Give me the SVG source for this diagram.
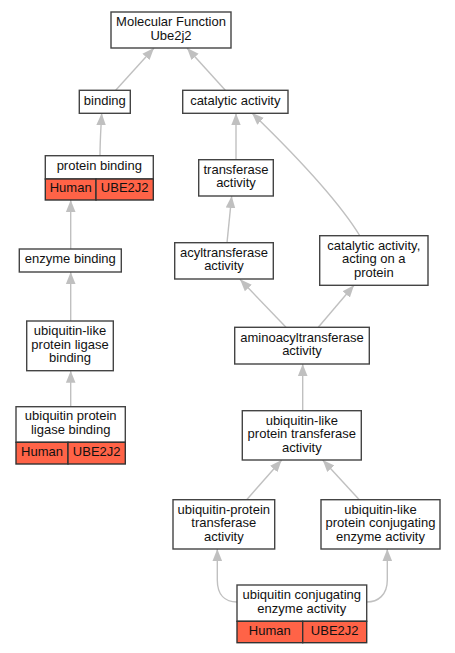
<svg xmlns="http://www.w3.org/2000/svg" width="455" height="653" viewBox="0 0 455 653">
<style>
.box{fill:#ffffff;stroke:#444444;stroke-width:1.4}
.red{fill:#ff6347;stroke:#333333;stroke-width:1.4}
.t{font-family:"Liberation Sans",Arial,sans-serif;font-size:13px;fill:#111111;text-anchor:middle}
.e{fill:none;stroke:#c0c0c0;stroke-width:1.4;marker-end:url(#ah)}
</style>
<defs>
<marker id="ah" markerUnits="userSpaceOnUse" markerWidth="14" markerHeight="12" viewBox="0 -6 14 12" refX="12" refY="0" orient="auto">
<path d="M0,-4.8 L12,0 L0,4.8 z" fill="#c0c0c0"/>
</marker>
</defs>
<rect width="455" height="653" fill="#ffffff"/>
<g id="connectors">
<path class="e" d="M115.7,90.3 L154,48"/>
<path class="e" d="M225.3,90.3 L187,48"/>
<path class="e" d="M100,155.7 C100,140 101,128 101.7,113.3"/>
<path class="e" d="M236,159.7 L236,113.3"/>
<path class="e" d="M360,236 C335,195 285,145 252,113"/>
<path class="e" d="M227,242.7 L231.7,196"/>
<path class="e" d="M70.7,249 L70.7,200"/>
<path class="e" d="M70.7,321 L70.7,272"/>
<path class="e" d="M70.7,406.7 L70.7,370.7"/>
<path class="e" d="M286,327.3 L240,279.3"/>
<path class="e" d="M318.3,327.3 L354,285.3"/>
<path class="e" d="M302.7,410.7 L302.7,364"/>
<path class="e" d="M246.7,499.7 L281.7,460"/>
<path class="e" d="M359.3,499.7 L322.7,460"/>
<path class="e" d="M237,602 C225,602 217.3,595 217.3,580 L217.3,549"/>
<path class="e" d="M366.7,602 C378,602 387.3,595 387.3,580 L387.3,549"/>
</g>
<g id="n_mf">
<rect class="box" x="111" y="12" width="120" height="36"/>
<text class="t" x="171" y="26.2">Molecular Function</text>
<text class="t" x="171" y="39.8">Ube2j2</text>
</g>
<g id="n_binding">
<rect class="box" x="79.3" y="90.3" width="51" height="23"/>
<text class="t" x="104.8" y="104.5">binding</text>
</g>
<g id="n_catalytic">
<rect class="box" x="182.7" y="90.3" width="105.3" height="23"/>
<text class="t" x="235.3" y="104.5">catalytic activity</text>
</g>
<g id="n_protein_binding">
<rect class="box" x="45.3" y="155.7" width="108" height="23.3"/>
<rect class="red" x="45.3" y="179" width="50.7" height="21"/>
<rect class="red" x="96" y="179" width="57.3" height="21"/>
<text class="t" x="99.3" y="169.7">protein binding</text>
<text class="t" x="70.7" y="192">Human</text>
<text class="t" x="124.7" y="192">UBE2J2</text>
</g>
<g id="n_transferase">
<rect class="box" x="198.7" y="159.7" width="74.6" height="36.3"/>
<text class="t" x="236" y="173.8">transferase</text>
<text class="t" x="236" y="187.4">activity</text>
</g>
<g id="n_enzyme_binding">
<rect class="box" x="19.3" y="249" width="102" height="23"/>
<text class="t" x="70.3" y="263.2">enzyme binding</text>
</g>
<g id="n_acyltransferase">
<rect class="box" x="174.7" y="242.7" width="98.6" height="36.3"/>
<text class="t" x="224" y="256.8">acyltransferase</text>
<text class="t" x="224" y="270.4">activity</text>
</g>
<g id="n_catalytic_protein">
<rect class="box" x="319.7" y="235.7" width="108.3" height="49.6"/>
<text class="t" x="373.8" y="249.6">catalytic activity,</text>
<text class="t" x="373.8" y="263.2">acting on a</text>
<text class="t" x="373.8" y="276.8">protein</text>
</g>
<g id="n_ubl_ligase_binding">
<rect class="box" x="26.7" y="321" width="86.6" height="49.7"/>
<text class="t" x="70" y="335">ubiquitin-like</text>
<text class="t" x="70" y="348.6">protein ligase</text>
<text class="t" x="70" y="362.2">binding</text>
</g>
<g id="n_aminoacyltransferase">
<rect class="box" x="234.7" y="327.3" width="134.6" height="36.7"/>
<text class="t" x="302" y="341.5">aminoacyltransferase</text>
<text class="t" x="302" y="355">activity</text>
</g>
<g id="n_ub_ligase_binding">
<rect class="box" x="16" y="406.7" width="109.3" height="35.6"/>
<rect class="red" x="16" y="442.3" width="52" height="21.7"/>
<rect class="red" x="68" y="442.3" width="57.3" height="21.7"/>
<text class="t" x="70.7" y="420.4">ubiquitin protein</text>
<text class="t" x="70.7" y="434">ligase binding</text>
<text class="t" x="42" y="455.6">Human</text>
<text class="t" x="96.7" y="455.6">UBE2J2</text>
</g>
<g id="n_ubl_transferase">
<rect class="box" x="242.3" y="410.7" width="119" height="49.3"/>
<text class="t" x="301.8" y="424.5">ubiquitin-like</text>
<text class="t" x="301.8" y="438.1">protein transferase</text>
<text class="t" x="301.8" y="451.7">activity</text>
</g>
<g id="n_ub_protein_transferase">
<rect class="box" x="173" y="499.7" width="101.7" height="49.3"/>
<text class="t" x="223.8" y="513.5">ubiquitin-protein</text>
<text class="t" x="223.8" y="527.1">transferase</text>
<text class="t" x="223.8" y="540.7">activity</text>
</g>
<g id="n_ubl_conjugating">
<rect class="box" x="321" y="499.7" width="119" height="49.3"/>
<text class="t" x="380.5" y="513.5">ubiquitin-like</text>
<text class="t" x="380.5" y="527.1">protein conjugating</text>
<text class="t" x="380.5" y="540.7">enzyme activity</text>
</g>
<g id="n_ub_conjugating">
<rect class="box" x="237" y="585" width="129.7" height="36.3"/>
<rect class="red" x="237" y="621.3" width="65.7" height="21.4"/>
<rect class="red" x="302.7" y="621.3" width="64" height="21.4"/>
<text class="t" x="301.8" y="599">ubiquitin conjugating</text>
<text class="t" x="301.8" y="612.6">enzyme activity</text>
<text class="t" x="269.8" y="634.5">Human</text>
<text class="t" x="334.7" y="634.5">UBE2J2</text>
</g>
</svg>
